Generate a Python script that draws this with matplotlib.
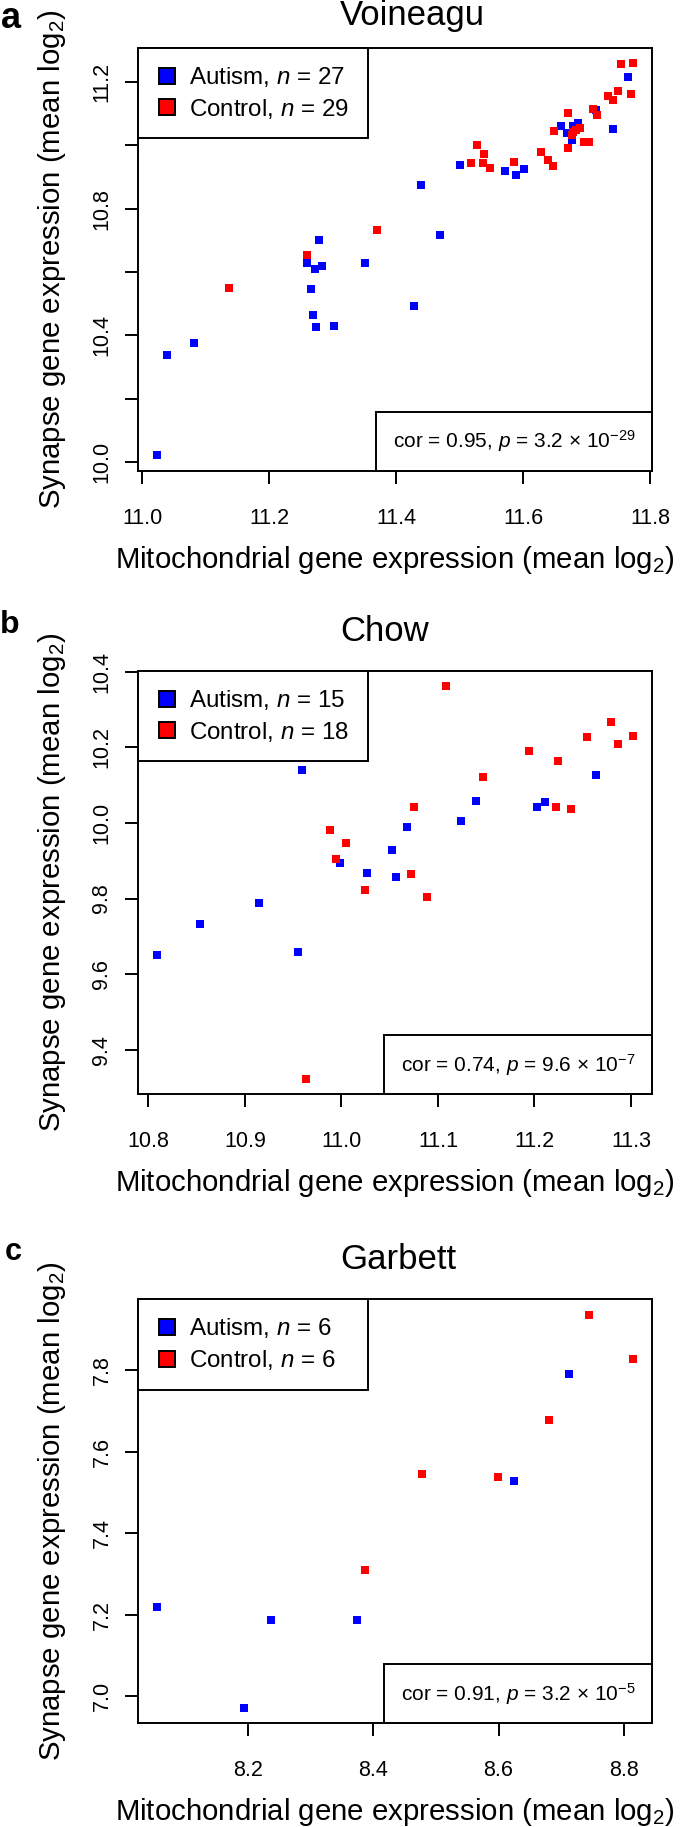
import numpy as np
import matplotlib
matplotlib.use('Agg')
import matplotlib.pyplot as plt
from matplotlib.lines import Line2D
from matplotlib.offsetbox import AnchoredText

plt.rcParams['font.family'] = ['Liberation Sans', 'DejaVu Sans']
plt.rcParams['mathtext.fontset'] = 'custom'
plt.rcParams['mathtext.rm'] = 'Liberation Sans'
plt.rcParams['mathtext.it'] = 'Liberation Sans:italic'
plt.rcParams['mathtext.bf'] = 'Liberation Sans:bold'

# ---- a: Voineagu ----
voineagu_autism_mito = [11.259, 11.272, 11.283, 11.279, 11.266, 11.351, 11.439, 11.469, 11.501,
                        11.572, 11.588, 11.602, 11.659, 11.669, 11.677, 11.679, 11.686, 11.715,
                        11.741, 11.765, 11.269, 11.273, 11.302, 11.428, 11.081, 11.039, 11.023]
voineagu_autism_syn = [10.628, 10.611, 10.620, 10.701, 10.548, 10.628, 10.873, 10.718, 10.936,
                       10.920, 10.906, 10.925, 11.062, 11.037, 11.016, 11.060, 11.069, 11.111,
                       11.051, 11.214, 10.464, 10.427, 10.429, 10.494, 10.375, 10.339, 10.022]
voineagu_control_mito = [11.136, 11.260, 11.369, 11.517, 11.528, 11.539, 11.537, 11.548, 11.585,
                         11.628, 11.639, 11.647, 11.649, 11.671, 11.670, 11.677, 11.679, 11.683,
                         11.689, 11.696, 11.704, 11.710, 11.717, 11.734, 11.742, 11.750, 11.754,
                         11.773, 11.770]
voineagu_control_syn = [10.549, 10.653, 10.731, 10.943, 11.001, 10.971, 10.945, 10.927, 10.947,
                        10.978, 10.953, 10.934, 11.046, 11.100, 10.991, 11.032, 11.043, 11.048,
                        11.053, 11.009, 11.009, 11.113, 11.095, 11.155, 11.144, 11.171, 11.256,
                        11.258, 11.161]

# ---- b: Chow ----
chow_autism_mito = [10.959, 11.264, 11.139, 11.211, 11.203, 11.124, 11.068, 11.052, 10.999,
                    11.027, 11.057, 10.915, 10.854, 10.809, 10.955]
chow_autism_syn = [10.140, 10.128, 10.057, 10.055, 10.042, 10.006, 9.990, 9.929, 9.894,
                   9.867, 9.856, 9.788, 9.733, 9.650, 9.660]
chow_control_mito = [11.108, 11.279, 11.254, 11.302, 11.287, 11.194, 11.224, 11.147, 11.075,
                     11.222, 11.238, 10.988, 11.005, 10.994, 11.072, 11.024, 11.089, 10.963]
chow_control_syn = [10.361, 10.267, 10.227, 10.230, 10.208, 10.190, 10.163, 10.121, 10.041,
                    10.043, 10.038, 9.980, 9.948, 9.904, 9.865, 9.822, 9.805, 9.324]

# ---- c: Garbett ----
garbett_autism_mito = [8.713, 8.625, 8.054, 8.236, 8.373, 8.193]
garbett_autism_syn = [7.791, 7.528, 7.218, 7.186, 7.187, 6.972]
garbett_control_mito = [8.745, 8.815, 8.681, 8.477, 8.599, 8.387]
garbett_control_syn = [7.937, 7.829, 7.679, 7.546, 7.539, 7.309]

titles = ['Voineagu', 'Chow', 'Garbett']
letters = ['a', 'b', 'c']
cor_texts = [r'cor = 0.95, $p$ = 3.2 × 10$^{-29}$',
             r'cor = 0.74, $p$ = 9.6 × 10$^{-7}$',
             r'cor = 0.91, $p$ = 3.2 × 10$^{-5}$']
xticks_all = [[11.0, 11.2, 11.4, 11.6, 11.8],
              [10.8, 10.9, 11.0, 11.1, 11.2, 11.3],
              [8.2, 8.4, 8.6, 8.8]]
yticks_all = [[10.0, 10.2, 10.4, 10.6, 10.8, 11.0, 11.2],
              [9.4, 9.6, 9.8, 10.0, 10.2, 10.4],
              [7.0, 7.2, 7.4, 7.6, 7.8]]
ytick_labels_all = [['10.0', '', '10.4', '', '10.8', '', '11.2'],
                    ['9.4', '9.6', '9.8', '10.0', '10.2', '10.4'],
                    ['7.0', '7.2', '7.4', '7.6', '7.8']]

autism = [(voineagu_autism_mito, voineagu_autism_syn),
          (chow_autism_mito, chow_autism_syn),
          (garbett_autism_mito, garbett_autism_syn)]
control = [(voineagu_control_mito, voineagu_control_syn),
           (chow_control_mito, chow_control_syn),
           (garbett_control_mito, garbett_control_syn)]

W, H = 685, 1827
fig = plt.figure(figsize=(W / 100, H / 100), dpi=100)

# axes boxes in pixels: (top, bottom)
boxes = [(47.7, 471.0), (670.7, 1094.3), (1299.0, 1723.3)]
left_px, right_px = 138, 652
title_base = [25, 640.7, 1269]
letter_pos = [(1, 28.3), (0, 633), (5, 1260)]
letter_size = [26, 23, 22]

lw = 1.4
for i in range(3):
    top, bot = boxes[i]
    ax = fig.add_axes([left_px / W, 1 - bot / H, (right_px - left_px) / W, (bot - top) / H])
    ax_x, ax_y = autism[i]
    cx, cy = control[i]
    ax.plot(ax_x, ax_y, 's', color='#0000ff', markersize=5.5, markeredgewidth=0, zorder=3)
    ax.plot(cx, cy, 's', color='#ff0000', markersize=5.5, markeredgewidth=0, zorder=3)

    # R style: 4% padding around the data range
    allx = np.array(list(ax_x) + list(cx))
    ally = np.array(list(ax_y) + list(cy))
    px = 0.04 * (allx.max() - allx.min())
    py = 0.04 * (ally.max() - ally.min())
    ax.set_xticks(xticks_all[i])
    ax.set_xticklabels([f'{v:.1f}' for v in xticks_all[i]])
    ax.set_yticks(yticks_all[i], ytick_labels_all[i])
    ax.set_xlim(allx.min() - px, allx.max() + px)
    ax.set_ylim(ally.min() - py, ally.max() + py)

    ax.tick_params(direction='out', length=9.4, width=lw, labelsize=15.5)
    ax.tick_params(axis='x', pad=17)
    ax.tick_params(axis='y', pad=9, labelrotation=90)
    for lbl in ax.get_yticklabels():
        lbl.set_verticalalignment('center')
    for s in ax.spines.values():
        s.set_linewidth(lw)

    ax.set_xlabel(r'Mitochondrial gene expression (mean log$_2$)', fontsize=21.2)
    ax.set_ylabel(r'Synapse gene expression (mean log$_2$)', fontsize=21.2)
    ax.xaxis.set_label_coords(0.5, -0.172)
    ax.yaxis.set_label_coords(-0.136, 0.5)

    n_a = len(ax_x)
    n_c = len(cx)
    handles = [Line2D([], [], marker='s', ls='none', markersize=11.5, markerfacecolor='#0000ff',
                      markeredgecolor='black', markeredgewidth=1.4),
               Line2D([], [], marker='s', ls='none', markersize=11.5, markerfacecolor='#ff0000',
                      markeredgecolor='black', markeredgewidth=1.4)]
    leg = ax.legend(handles, [rf'Autism, $n$ = {n_a}', rf'Control, $n$ = {n_c}'],
                    loc='upper left', bbox_to_anchor=(0, 0, 230 / (right_px - left_px), 1),
                    mode='expand', borderaxespad=0, fancybox=False, edgecolor='black',
                    framealpha=1, fontsize=17.4, handlelength=1.0, handletextpad=0.4,
                    borderpad=0.72, labelspacing=0.32)
    leg.get_frame().set_linewidth(lw)

    at = AnchoredText(cor_texts[i], loc='lower right', prop=dict(size=15),
                      frameon=True, borderpad=0, pad=0.8)
    at.patch.set_boxstyle('square,pad=0')
    at.patch.set_linewidth(lw)
    ax.add_artist(at)

    fig.text(340 / W, 1 - title_base[i] / H, titles[i], fontsize=25, va='baseline', ha='left')
    lx, ly = letter_pos[i]
    fig.text(lx / W, 1 - ly / H, letters[i], fontsize=letter_size[i], fontweight='bold',
             va='baseline')

fig.savefig('out.png', dpi=100)
